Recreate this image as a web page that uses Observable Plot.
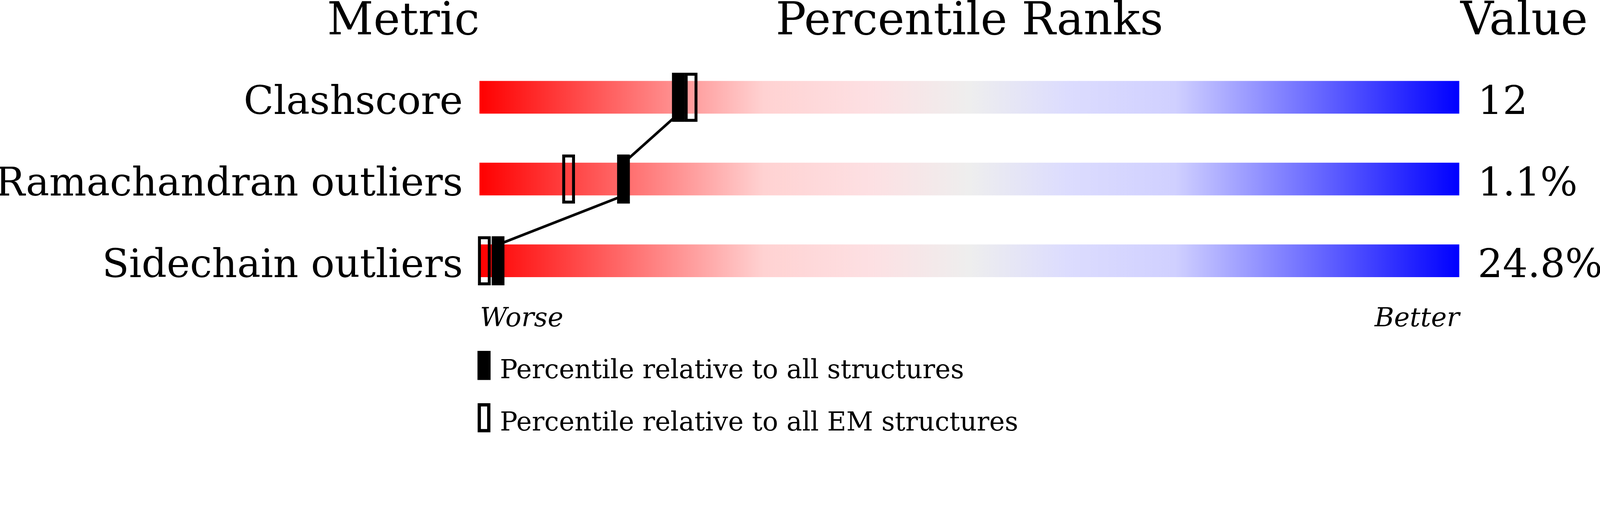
<!DOCTYPE html>
<html><head><meta charset="utf-8">
<script src="https://cdn.jsdelivr.net/npm/d3@7"></script>
<script src="https://cdn.jsdelivr.net/npm/@observablehq/plot@0.6"></script>
<style>
html,body{margin:0;padding:0;background:#fff;}
#chart svg{display:block;width:100%;height:auto;max-width:100%;}
</style>
</head><body><div id="chart"></div>
<script>
// ---- data ----
const metrics = ["Clashscore", "Ramachandran outliers", "Sidechain outliers"];
const valueLabels = ["12", "1.1%", "24.8%"];
const pctAll = [20.3, 14.7, 1.9];   // percentile relative to all structures
const pctEM = [21.6, 9.1, 0.5];     // percentile relative to all EM structures
const headers = ["Metric", "Percentile Ranks", "Value"];
const scaleEnds = ["Worse", "Better"];
const legendLabels = ["Percentile relative to all structures", "Percentile relative to all EM structures"];
const legendKinds = ["all", "em"];

// ---- layout ----
const W = 4889, H = 1322;
const FONT = "DejaVu Serif";
const MW = 39; // marker width px

const rows = metrics.map((m, i) => ({metric: m, value: valueLabels[i], all: pctAll[i], em: pctEM[i], row: i}));
const links = rows.slice(0, -1).map((r, i) => ({x1: r.all, y1: r.row + 0.2, x2: rows[i + 1].all, y2: rows[i + 1].row - 0.2}));
const legend = legendLabels.map((l, i) => ({label: l, kind: legendKinds[i], y: 3.28 + 0.64 * i}));

const plot = Plot.plot({
  width: W, height: H,
  margin: 0,
  style: {fontFamily: FONT, background: "white", color: "black"},
  x: {type: "linear", domain: [0, 100], range: [1465, 4459], axis: null},
  y: {type: "linear", domain: [-1.19, 4.098], range: [0, H], axis: null},
  marks: [
    // gradient bars
    Plot.rect(rows, {x1: () => 0, x2: () => 100, y1: d => d.row - 0.2, y2: d => d.row + 0.2, fill: "url(#pgrad)"}),
    // connecting line between "all structures" markers
    Plot.link(links, {x1: "x1", y1: "y1", x2: "x2", y2: "y2", stroke: "black", strokeWidth: 8}),
    // EM markers (open)
    Plot.rect(rows, {x1: "em", x2: "em", y1: d => d.row - 0.3, y2: d => d.row + 0.3,
      insetLeft: -(MW / 2 - 4.5), insetRight: -(MW / 2 - 4.5), insetTop: 4.5, insetBottom: 4.5,
      fill: "none", stroke: "black", strokeWidth: 9}),
    // all-structure markers (filled)
    Plot.rect(rows, {x1: "all", x2: "all", y1: d => d.row - 0.3, y2: d => d.row + 0.3,
      insetLeft: -MW / 2, insetRight: -MW / 2, fill: "black"}),
    // row labels
    Plot.text(rows, {x: () => 0, y: d => d.row + 0.2, text: "metric", textAnchor: "end", lineAnchor: "bottom",
      dx: -51, fontSize: 120, fill: "black"}),
    // values
    Plot.text(rows, {x: () => 100, y: d => d.row + 0.2, text: "value", textAnchor: "start", lineAnchor: "bottom",
      dx: 56, fontSize: 120, fill: "black"}),
    // headers
    Plot.text([headers[0]], {x: () => 0, y: () => -0.77, text: d => d, textAnchor: "end", lineAnchor: "bottom", fontSize: 138, fill: "black"}),
    Plot.text([headers[1]], {x: () => 50, y: () => -0.77, text: d => d, textAnchor: "middle", lineAnchor: "bottom", fontSize: 138, fill: "black"}),
    Plot.text([headers[2]], {x: () => 100, y: () => -0.77, text: d => d, textAnchor: "start", lineAnchor: "bottom", dx: 3, fontSize: 140, fill: "black"}),
    // worse / better
    Plot.text([scaleEnds[0]], {x: () => 0, y: () => 2.798, text: d => d, textAnchor: "start", lineAnchor: "bottom", dx: 1, fontSize: 81, fontStyle: "italic", fill: "black"}),
    Plot.text([scaleEnds[1]], {x: () => 100, y: () => 2.798, text: d => d, textAnchor: "end", lineAnchor: "bottom", fontSize: 81, fontStyle: "italic", fill: "black"}),
    // legend markers
    Plot.rect(legend.filter(d => d.kind === "all"), {x1: () => 0, x2: () => 0, y1: d => d.y - 0.178, y2: d => d.y + 0.178,
      insetLeft: -MW / 2 - 0.5, insetRight: -MW / 2 - 0.5, dx: 14, fill: "black"}),
    Plot.rect(legend.filter(d => d.kind === "em"), {x1: () => 0, x2: () => 0, y1: d => d.y - 0.178, y2: d => d.y + 0.178,
      insetLeft: -(MW / 2 - 5), insetRight: -(MW / 2 - 5), insetTop: 5, insetBottom: 5, dx: 14,
      fill: "none", stroke: "black", strokeWidth: 10}),
    Plot.text(legend, {x: () => 0, y: d => d.y + 0.155, text: "label", textAnchor: "start", lineAnchor: "bottom", dx: 62, fontSize: 80, fill: "black"})
  ]
});

// gradient definition
const svg = d3.select(plot);
const grad = svg.insert("defs", ":first-child").append("linearGradient")
  .attr("id", "pgrad").attr("x1", "0").attr("x2", "1").attr("y1", "0").attr("y2", "0");
[[0, "#ff0000"], [0.29, "#ffd2d2"], [0.4, "#fde0e3"], [0.5, "#eeeeee"], [0.6, "#dcdcfe"], [0.71, "#d0d0ff"], [1, "#0000ff"]]
  .forEach(([o, c]) => grad.append("stop").attr("offset", o).attr("stop-color", c));

document.getElementById("chart").appendChild(plot);
</script>
</body></html>
